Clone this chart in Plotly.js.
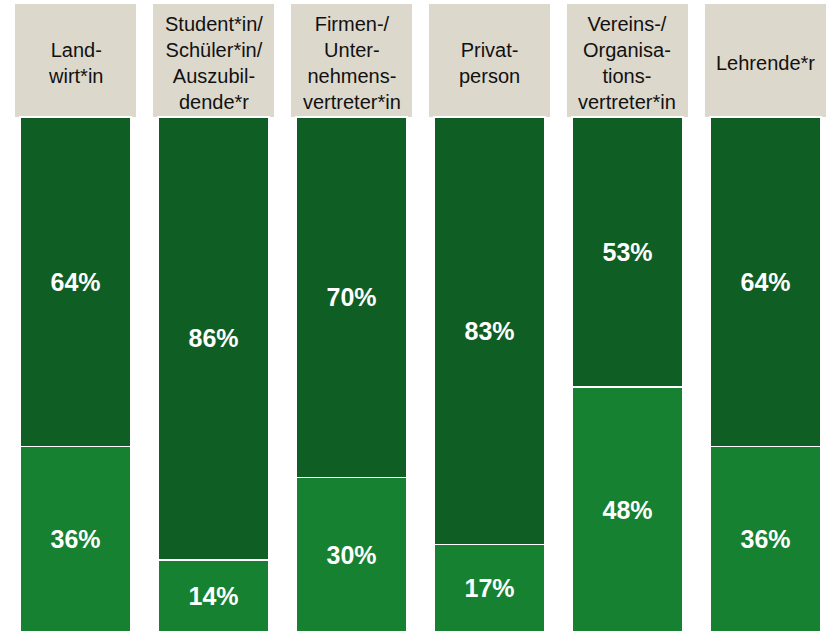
<!DOCTYPE html>
<html>
<head>
<meta charset="utf-8">
<script src="https://cdn.plot.ly/plotly-3.0.1.min.js"></script>
<style>html,body{margin:0;padding:0;background:#fff;}#chart{width:827px;height:631px;}</style>
</head>
<body>
<div id="chart"></div>
<script>
const categories = [
  "Land-<br>wirt*in",
  "Student*in/<br>Schüler*in/<br>Auszubil-<br>dende*r",
  "Firmen-/<br>Unter-<br>nehmens-<br>vertreter*in",
  "Privat-<br>person",
  "Vereins-/<br>Organisa-<br>tions-<br>vertreter*in",
  "Lehrende*r"
];
const topValues = [64, 86, 70, 83, 53, 64];
const bottomValues = [36, 14, 30, 17, 48, 36];

const darkGreen = "#0f5e24";
const lightGreen = "#158131";
const headerFill = "#ddd8cc";

const idx = categories.map((_, i) => i);
const fontFamily = "Liberation Sans, Arial, sans-serif";

const common = {
  type: "bar",
  x: idx,
  textposition: "inside",
  insidetextanchor: "middle",
  textangle: 0,
  constraintext: "none",
  textfont: {color: "#ffffff", size: 25, family: fontFamily, weight: "bold"},
  hoverinfo: "skip"
};

const traces = [
  Object.assign({}, common, {
    y: bottomValues,
    text: bottomValues.map(v => v + "%"),
    marker: {color: lightGreen, line: {color: "#ffffff", width: 1.5}}
  }),
  Object.assign({}, common, {
    y: topValues,
    text: topValues.map(v => v + "%"),
    marker: {color: darkGreen, line: {color: "#ffffff", width: 1.5}}
  })
];

const halfBox = 0.4385;
const shapes = idx.map(i => ({
  type: "rect", xref: "x", yref: "y",
  x0: i - halfBox, x1: i + halfBox, y0: 100, y1: 121.9,
  fillcolor: headerFill, line: {width: 0}, layer: "below"
}));
const annotations = idx.map(i => ({
  x: i, y: 110.4, xref: "x", yref: "y",
  text: categories[i], showarrow: false,
  xanchor: "center", yanchor: "middle", align: "center",
  font: {size: 20, color: "#111111", family: fontFamily}
}));

const layout = {
  width: 827, height: 631,
  margin: {l: 0, r: 0, t: 0, b: 0},
  paper_bgcolor: "#ffffff", plot_bgcolor: "#ffffff",
  barmode: "stack", barnorm: "percent", bargap: 0.196,
  showlegend: false,
  xaxis: {visible: false, range: [-0.5471, 5.4457]},
  yaxis: {visible: false, range: [0.194, 122.7]},
  shapes: shapes,
  annotations: annotations
};

Plotly.newPlot("chart", traces, layout, {displayModeBar: false, staticPlot: true});
</script>
</body>
</html>
